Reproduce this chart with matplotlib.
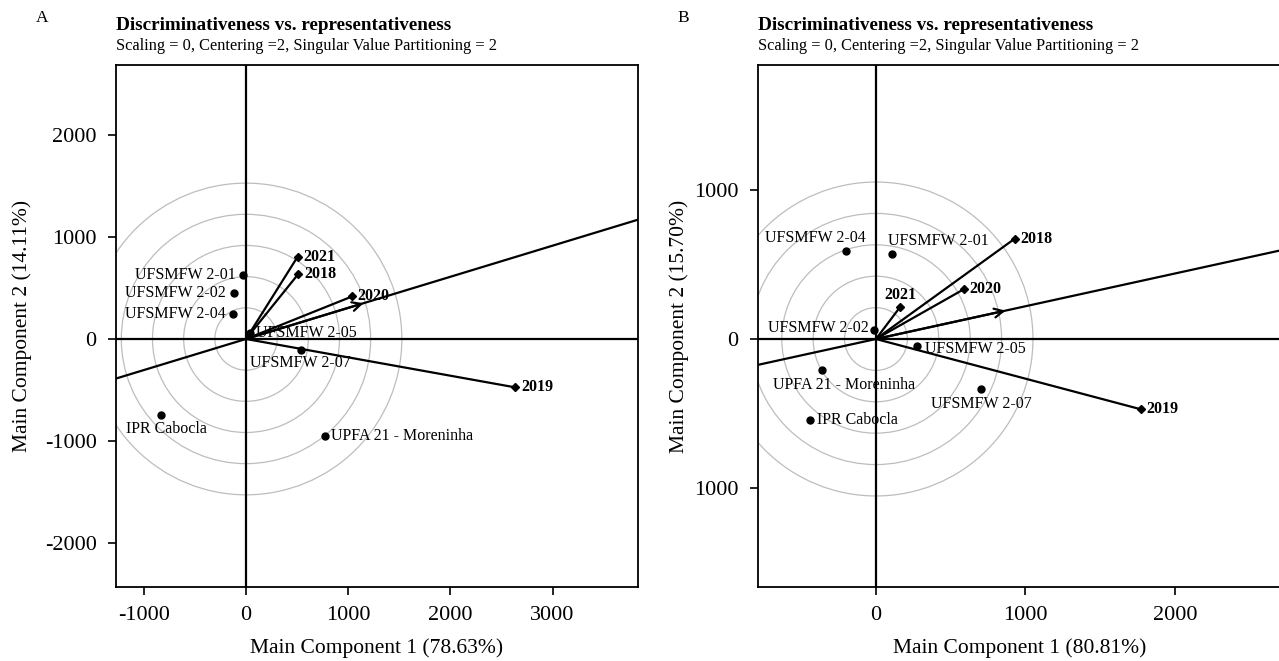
import numpy as np
import matplotlib
matplotlib.use("Agg")
import matplotlib.pyplot as plt
from matplotlib.patches import Circle

plt.rcParams["font.family"] = ["Liberation Serif", "DejaVu Serif"]
plt.rcParams["axes.unicode_minus"] = False

# ---- data ----
env_names = ["2018", "2019", "2020", "2021"]

gen_names_a = ["UFSMFW 2-01", "UFSMFW 2-02", "UFSMFW 2-04", "UFSMFW 2-05",
               "UFSMFW 2-07", "IPR Cabocla", "UPFA 21 - Moreninha"]
gen_x_a = [-29, -117, -124, 40, 535, -828, 770]
gen_y_a = [626, 453, 245, 60, -104, -741, -946]
env_x_a = [512, 2632, 1040, 506]
env_y_a = [636, -473, 417, 806]
aea_a = [1150, 350]
ring_step_a = 305

gen_names_b = ["UFSMFW 2-04", "UFSMFW 2-01", "UFSMFW 2-02", "UFSMFW 2-05",
               "UPFA 21 - Moreninha", "UFSMFW 2-07", "IPR Cabocla"]
gen_x_b = [-203, 105, -11, 272, -363, 705, -441]
gen_y_b = [591, 569, 58, -47, -210, -334, -542]
env_x_b = [928, 1771, 586, 163]
env_y_b = [671, -470, 332, 216]
aea_b = [867, 190]
ring_step_b = 210

xticks_a = [-1000, 0, 1000, 2000, 3000]
yticks_a = [-2000, -1000, 0, 1000, 2000]
xticks_b = [0, 1000, 2000]
yticks_b = [-1000, 0, 1000]
ytick_labels_b = ["1000", "0", "1000"]

# label offsets in pixels (dx, dy, ha, va)
lab_a = {
    "UFSMFW 2-01": (-7, 0, "right", "center"),
    "UFSMFW 2-02": (-8, 0, "right", "center"),
    "UFSMFW 2-04": (-8, 0, "right", "center"),
    "UFSMFW 2-05": (6, 0, "left", "center"),
    "UFSMFW 2-07": (0, -5, "center", "top"),
    "IPR Cabocla": (5, -6, "center", "top"),
    "UPFA 21 - Moreninha": (6, 0, "left", "center"),
}
lab_b = {
    "UFSMFW 2-04": (-30, 13, "center", "center"),
    "UFSMFW 2-01": (47, 13, "center", "center"),
    "UFSMFW 2-02": (-6, 2, "right", "center"),
    "UFSMFW 2-05": (8, -3, "left", "center"),
    "UPFA 21 - Moreninha": (22, -7, "center", "top"),
    "UFSMFW 2-07": (0, -7, "center", "top"),
    "IPR Cabocla": (7, 0, "left", "center"),
}
env_lab_a = {"2018": (6, 0), "2019": (6, 0), "2020": (5, 0), "2021": (6, 0)}
env_lab_b = {"2018": (6, 0), "2019": (6, 0), "2020": (6, 0), "2021": (0, 12)}


def biplot(ax, gx, gy, gnames, ex, ey, aea, step, glab, elab):
    for k in range(1, 6):
        ax.add_patch(Circle((0, 0), step * k, fill=False, ec="#bdbdbd", lw=0.9, zorder=1))
    ax.axhline(0, color="black", lw=1.6, zorder=2)
    ax.axvline(0, color="black", lw=1.6, zorder=2)
    ax.axline((0, 0), (aea[0], aea[1]), color="black", lw=1.6, zorder=2)
    ax.annotate("", xy=(aea[0], aea[1]), xytext=(0, 0),
                arrowprops=dict(arrowstyle="->", lw=1.6, color="black",
                                mutation_scale=16, shrinkA=0, shrinkB=0), zorder=3)
    for n, x, y in zip(env_names, ex, ey):
        ax.plot([0, x], [0, y], color="black", lw=1.6, zorder=3)
        ax.plot(x, y, marker="D", ms=4.5, color="black", zorder=4)
        dx, dy = elab[n]
        ax.annotate(n, (x, y), xytext=(dx, dy), textcoords="offset pixels",
                    ha="left" if dy == 0 else "center", va="center",
                    fontsize=11.5, fontweight="bold", zorder=5)
    for n, x, y in zip(gnames, gx, gy):
        ax.plot(x, y, marker="o", ms=5, color="black", zorder=4)
        dx, dy, ha, va = glab[n]
        ax.annotate(n, (x, y), xytext=(dx, dy), textcoords="offset pixels",
                    ha=ha, va=va, fontsize=11.5, zorder=5)
    for s in ax.spines.values():
        s.set_linewidth(1.3)
    ax.tick_params(direction="out", length=6, width=1.2, labelsize=16, pad=8)


fig = plt.figure(figsize=(12.79, 6.61), dpi=100)
ax1 = fig.add_axes([116 / 1279, 74 / 661, 522 / 1279, 522 / 661])
ax2 = fig.add_axes([758 / 1279, 74 / 661, 523 / 1279, 522 / 661])

biplot(ax1, gen_x_a, gen_y_a, gen_names_a, env_x_a, env_y_a, aea_a, ring_step_a, lab_a, env_lab_a)
ax1.set_xlim(-1272, 3836)
ax1.set_ylim(-2427, 2681)
ax1.set_xticks(xticks_a)
ax1.set_yticks(yticks_a)
ax1.set_xlabel("Main Component 1 (78.63%)", fontsize=15.5, labelpad=9)
ax1.set_ylabel("Main Component 2 (14.11%)", fontsize=15.5)
ax1.yaxis.set_label_coords(-0.161, 0.5)

biplot(ax2, gen_x_b, gen_y_b, gen_names_b, env_x_b, env_y_b, aea_b, ring_step_b, lab_b, env_lab_b)
ax2.set_xlim(-789, 2709)
ax2.set_ylim(-1659, 1833)
ax2.set_xticks(xticks_b)
ax2.set_yticks(yticks_b)
ax2.set_yticklabels(ytick_labels_b)
ax2.set_xlabel("Main Component 1 (80.81%)", fontsize=15.5, labelpad=9)
ax2.set_ylabel("Main Component 2 (15.70%)", fontsize=15.5)
ax2.yaxis.set_label_coords(-0.132, 0.5)

for ax, letter, lx in [(ax1, "A", 36), (ax2, "B", 677)]:
    fig.text(lx / 1279, 1 - 18 / 661, letter, fontsize=12.5, va="center")
    x0 = ax.get_position().x0
    fig.text(x0, 1 - 25 / 661, "Discriminativeness vs. representativeness",
             fontsize=13.8, fontweight="bold", va="center")
    fig.text(x0, 1 - 46 / 661, "Scaling = 0, Centering =2, Singular Value Partitioning = 2",
             fontsize=11.8, va="center")

fig.savefig("out.png", dpi=100)
